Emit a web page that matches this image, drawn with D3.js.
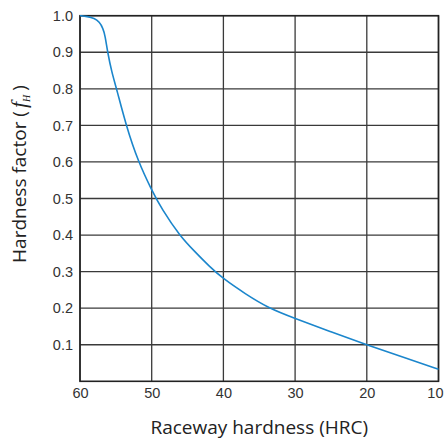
<!DOCTYPE html>
<html>
<head>
<meta charset="utf-8">
<script src="https://cdn.jsdelivr.net/npm/d3@7"></script>
<style>
  body { margin: 0; background: #fff; }
  svg { display: block; }
</style>
</head>
<body>
<div class="graph"></div>
<script>
// raceway hardness (HRC) vs hardness factor
var hrc = [60, 59, 58, 57.3, 56.8, 56.5, 56.14, 55.58, 54.88, 53.58, 51.87, 50, 48.6, 46.05, 44, 42, 40, 37, 33.7, 30, 25, 20, 15, 10];
var factor = [1.0, 0.998, 0.993, 0.983, 0.966, 0.946, 0.899, 0.846, 0.799, 0.7, 0.6, 0.523, 0.471, 0.397, 0.355, 0.315, 0.28, 0.24, 0.2, 0.172, 0.135, 0.1, 0.066, 0.033];
var xTicks = [60, 50, 40, 30, 20, 10];
var yTicks = [0.1, 0.2, 0.3, 0.4, 0.5, 0.6, 0.7, 0.8, 0.9, 1.0];

var W = 445, H = 439;
var margin = { top: 15.7, right: 6.5, bottom: 57.7, left: 80 },
    width = W - margin.left - margin.right,
    height = H - margin.top - margin.bottom;

var svg = d3.select(".graph").append("svg")
    .attr("width", W)
    .attr("height", H);
var g = svg.append("g")
    .attr("transform", `translate(${margin.left}, ${margin.top})`);

var x = d3.scaleLinear().domain([60, 10]).range([0, width]);
var y = d3.scaleLinear().domain([0, 1]).range([height, 0]);

var gridColor = "#3a3a3a";

// vertical grid
g.append("g")
    .selectAll("line")
    .data(xTicks)
    .join("line")
    .attr("x1", d => x(d)).attr("x2", d => x(d))
    .attr("y1", 0).attr("y2", height)
    .attr("stroke", gridColor)
    .attr("stroke-width", 1.3);

// horizontal grid
g.append("g")
    .selectAll("line")
    .data(yTicks)
    .join("line")
    .attr("x1", 0).attr("x2", width)
    .attr("y1", d => y(d)).attr("y2", d => y(d))
    .attr("stroke", gridColor)
    .attr("stroke-width", 1.3);

// frame
g.append("rect")
    .attr("x", 0).attr("y", 0)
    .attr("width", width).attr("height", height)
    .attr("fill", "none")
    .attr("stroke", "#222")
    .attr("stroke-width", 1.6);

// axes (labels only)
var xAxis = g.append("g")
    .attr("transform", `translate(0, ${height})`)
    .call(d3.axisBottom(x).tickValues(xTicks).tickSize(0).tickPadding(6).tickFormat(d3.format("d")));
var yAxis = g.append("g")
    .call(d3.axisLeft(y).tickValues(yTicks).tickSize(0).tickPadding(7).tickFormat(d3.format(".1f")));
[xAxis, yAxis].forEach(a => {
    a.select(".domain").remove();
    a.selectAll("text")
        .attr("fill", "#333")
        .style("font-family", "'Liberation Sans', Arimo, Arial, sans-serif")
        .style("font-size", "14.5px");
});
// last label sits inside the right edge
xAxis.selectAll(".tick text")
    .filter(d => d === 10)
    .attr("text-anchor", "end")
    .attr("dx", 4.5);

// the curve (basis spline smooths out reading noise)
var pts = hrc.map((h, i) => ({ h: h, f: factor[i] })).sort((a, b) => a.h - b.h);
var line = d3.line()
    .x(d => x(d.h))
    .y(d => y(d.f))
    .curve(d3.curveBasis);
g.append("path")
    .datum(pts)
    .attr("fill", "none")
    .attr("stroke", "#1b86cc")
    .attr("stroke-width", 1.6)
    .attr("d", line);

// axis titles
svg.append("text")
    .attr("x", margin.left + width / 2)
    .attr("y", 434)
    .attr("text-anchor", "middle")
    .attr("fill", "#222")
    .style("font-family", "'Open Sans', 'Noto Sans', sans-serif")
    .style("font-size", "19px")
    .text("Raceway hardness (HRC)");

var yt = svg.append("text")
    .attr("transform", "translate(26, 174) rotate(-90)")
    .attr("text-anchor", "middle")
    .attr("fill", "#222")
    .style("font-family", "'Open Sans', 'Noto Sans', sans-serif")
    .style("font-size", "19px");
yt.append("tspan").text("Hardness factor (");
yt.append("tspan")
    .style("font-family", "'Liberation Serif', 'DejaVu Serif', serif")
    .style("font-style", "italic")
    .style("font-size", "22px")
    .attr("dx", 3)
    .text("f");
yt.append("tspan")
    .style("font-family", "'Liberation Serif', 'DejaVu Serif', serif")
    .style("font-style", "italic")
    .style("font-size", "10px")
    .attr("dy", 4)
    .text("H");
yt.append("tspan")
    .attr("dy", -4)
    .attr("dx", 4)
    .text(")");
</script>
</body>
</html>
